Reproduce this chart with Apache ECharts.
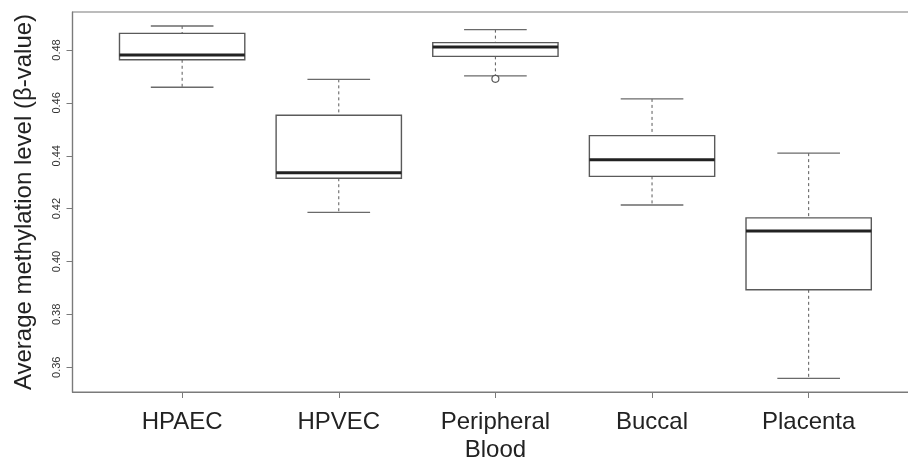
<!DOCTYPE html>
<html>
<head>
<meta charset="utf-8">
<script src="https://cdn.jsdelivr.net/npm/echarts@6/dist/echarts.min.js"></script>
<style>
html,body{margin:0;padding:0;background:#fff;}
#chart{width:908px;height:463px;}
</style>
</head>
<body>
<div id="chart"></div>
<script>
const categories = ['HPAEC', 'HPVEC', 'Peripheral\nBlood', 'Buccal', 'Placenta'];
const whiskerHigh = [0.4891, 0.4689, 0.4877, 0.4615, 0.4410];
const q3 = [0.4863, 0.4553, 0.4828, 0.4476, 0.4165];
const median = [0.4781, 0.4336, 0.4811, 0.4385, 0.4115];
const q1 = [0.4763, 0.4315, 0.4776, 0.4322, 0.3893];
const whiskerLow = [0.4659, 0.4186, 0.4702, 0.4214, 0.3558];
const outliers = [[3, 0.4691]];
const yTicks = [0.36, 0.38, 0.40, 0.42, 0.44, 0.46, 0.48];
const xTicks = [1, 2, 3, 4, 5];

const boxData = categories.map((c, i) => [i + 1, whiskerLow[i], q1[i], median[i], q3[i], whiskerHigh[i]]);

const FONT = 'Liberation Sans, Arial, Helvetica, sans-serif';
const chart = echarts.init(document.getElementById('chart'));

function renderBox(params, api) {
  const x = api.value(0);
  const lo = api.value(1), a = api.value(2), m = api.value(3), b = api.value(4), hi = api.value(5);
  const halfW = 0.4, capW = 0.2;
  const pTL = api.coord([x - halfW, b]);
  const pBR = api.coord([x + halfW, a]);
  const pMedL = api.coord([x - halfW, m]);
  const pMedR = api.coord([x + halfW, m]);
  const pHi = api.coord([x, hi]);
  const pLo = api.coord([x, lo]);
  const pB = api.coord([x, b]);
  const pA = api.coord([x, a]);
  const cHiL = api.coord([x - capW, hi]);
  const cHiR = api.coord([x + capW, hi]);
  const cLoL = api.coord([x - capW, lo]);
  const cLoR = api.coord([x + capW, lo]);
  const boxStyle = { stroke: '#5a5a5a', lineWidth: 1.4, fill: '#fff' };
  const dash = { stroke: '#5a5a5a', lineWidth: 1, lineDash: [3, 3] };
  const cap = { stroke: '#6a6a6a', lineWidth: 1.4 };
  return {
    type: 'group',
    children: [
      { type: 'line', shape: { x1: pHi[0], y1: pHi[1], x2: pB[0], y2: pB[1] }, style: dash },
      { type: 'line', shape: { x1: pA[0], y1: pA[1], x2: pLo[0], y2: pLo[1] }, style: dash },
      { type: 'line', shape: { x1: cHiL[0], y1: cHiL[1], x2: cHiR[0], y2: cHiR[1] }, style: cap },
      { type: 'line', shape: { x1: cLoL[0], y1: cLoL[1], x2: cLoR[0], y2: cLoR[1] }, style: cap },
      { type: 'rect', shape: { x: pTL[0], y: pTL[1], width: pBR[0] - pTL[0], height: pBR[1] - pTL[1] }, style: boxStyle },
      { type: 'line', shape: { x1: pMedL[0], y1: pMedL[1], x2: pMedR[0], y2: pMedR[1] }, style: { stroke: '#222', lineWidth: 3 } }
    ]
  };
}

chart.setOption({
  animation: false,
  backgroundColor: '#fff',
  grid: { left: 72.5, width: 845.8, top: 12, bottom: 71, outerBoundsMode: 'none', containLabel: false, show: true, borderColor: '#7a7a7a', borderWidth: 1.2, backgroundColor: 'transparent' },
  xAxis: {
    type: 'value', min: 0.3, max: 5.7,
    splitLine: { show: false },
    axisLine: { show: true, lineStyle: { color: '#7a7a7a', width: 1.2 } },
    axisTick: { show: true, length: 6, customValues: xTicks, lineStyle: { color: '#7a7a7a' } },
    axisLabel: {
      customValues: xTicks,
      margin: 16,
      fontSize: 24, lineHeight: 28, fontFamily: FONT, color: '#222',
      formatter: v => categories[Math.round(v) - 1] || ''
    }
  },
  yAxis: {
    type: 'value', min: 0.35065, max: 0.49437,
    name: 'Average methylation level (β-value)',
    nameLocation: 'middle', nameGap: 36,
    nameTextStyle: { fontSize: 24, fontFamily: FONT, color: '#222' },
    splitLine: { show: false },
    axisLine: { show: true, lineStyle: { color: '#7a7a7a', width: 1.2 } },
    axisTick: { show: true, length: 6, customValues: yTicks, lineStyle: { color: '#7a7a7a' } },
    axisLabel: {
      customValues: yTicks,
      rotate: 90, margin: 10,
      fontSize: 11, fontFamily: FONT, color: '#333',
      formatter: v => v.toFixed(2)
    }
  },
  series: [
    {
      type: 'custom',
      renderItem: renderBox,
      data: boxData,
      encode: { x: 0, y: [1, 2, 3, 4, 5] },
      silent: true,
      z: 2
    },
    {
      type: 'scatter',
      data: outliers,
      symbol: 'circle',
      symbolSize: 7,
      itemStyle: { color: '#fff', borderColor: '#5a5a5a', borderWidth: 1.2, opacity: 1 },
      silent: true,
      z: 5
    }
  ]
});
</script>
</body>
</html>
